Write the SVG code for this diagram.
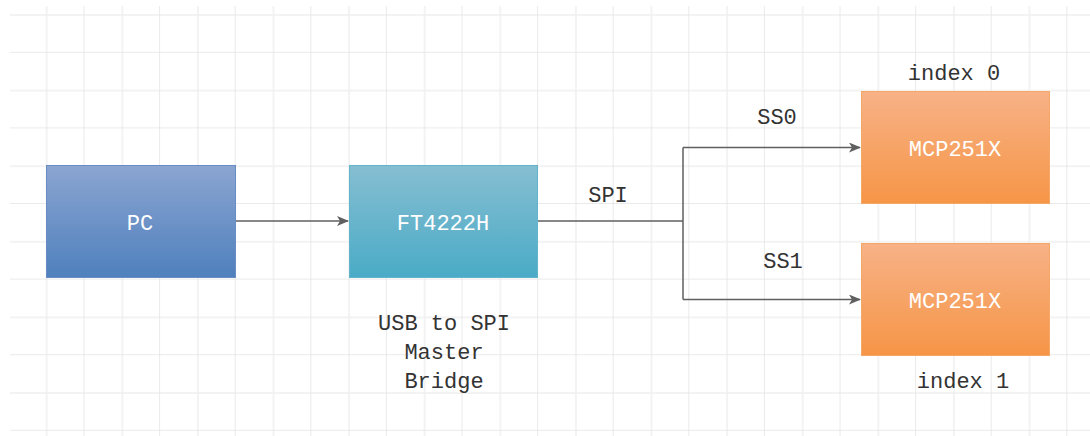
<svg xmlns="http://www.w3.org/2000/svg" width="1090" height="436" viewBox="0 0 1090 436">
<defs>
<linearGradient id="gBlue" x1="0" y1="0" x2="0" y2="1"><stop offset="0" stop-color="#8ba5d1"/><stop offset="1" stop-color="#4f80bd"/></linearGradient>
<linearGradient id="gTeal" x1="0" y1="0" x2="0" y2="1"><stop offset="0" stop-color="#86bed2"/><stop offset="1" stop-color="#4aabc6"/></linearGradient>
<linearGradient id="gOrange" x1="0" y1="0" x2="0" y2="1"><stop offset="0" stop-color="#f7b287"/><stop offset="1" stop-color="#f69546"/></linearGradient>
<marker id="arr" markerWidth="12" markerHeight="10" refX="11" refY="5" orient="auto" markerUnits="userSpaceOnUse"><path d="M0,0 L12,5 L0,10 L3,5 Z" fill="#5f5f5f"/></marker>
<pattern id="grid" x="8.9" y="-22.8" width="75.6" height="75.6" patternUnits="userSpaceOnUse">
<path d="M37.8,0 V75.6 M0,37.8 H75.6" stroke="#f0f0f0" stroke-width="1.5" fill="none"/>
<path d="M75.6,0 V75.6 M0,75.6 H75.6" stroke="#e3e3e3" stroke-width="1.5" fill="none"/>
</pattern>
</defs>
<style>
.lbl{font-family:"Liberation Mono","DejaVu Sans Mono",monospace;font-size:22px;fill:#333;text-anchor:middle}
.nt{font-family:"Liberation Mono","DejaVu Sans Mono",monospace;font-size:22px;fill:#fff;text-anchor:middle}
.cn{stroke:#5f5f5f;stroke-width:1.5;fill:none}
</style>
<rect width="1090" height="436" fill="#fff"/>
<rect x="10" y="6" width="1080" height="430" fill="url(#grid)"/>
<g id="connectors">
<path class="cn" d="M236,221 H348" marker-end="url(#arr)"/>
<path class="cn" d="M538,221 H683"/>
<path class="cn" d="M683,147.5 V299.5"/>
<path class="cn" d="M683,147.5 H860" marker-end="url(#arr)"/>
<path class="cn" d="M683,299.5 H860" marker-end="url(#arr)"/>
<text class="lbl" x="608" y="202">SPI</text>
<text class="lbl" x="777" y="124">SS0</text>
<text class="lbl" x="783" y="268">SS1</text>
</g>
<g id="pc">
<rect x="46.5" y="165.5" width="189" height="112" fill="url(#gBlue)" stroke="#6a8cc4" stroke-width="1"/>
<text class="nt" x="140" y="230">PC</text>
</g>
<g id="ft4222h">
<rect x="349.5" y="165.5" width="188" height="112" fill="url(#gTeal)" stroke="#62b4cb" stroke-width="1"/>
<text class="nt" x="443" y="230">FT4222H</text>
<text class="lbl" x="444" y="330">USB to SPI</text>
<text class="lbl" x="444" y="359">Master</text>
<text class="lbl" x="444" y="388">Bridge</text>
</g>
<g id="mcp0">
<rect x="861.5" y="91.5" width="188" height="112" fill="url(#gOrange)" stroke="#f5a767" stroke-width="1"/>
<text class="nt" x="955" y="156">MCP251X</text>
<text class="lbl" x="954" y="80">index 0</text>
</g>
<g id="mcp1">
<rect x="861.5" y="243.5" width="188" height="112" fill="url(#gOrange)" stroke="#f5a767" stroke-width="1"/>
<text class="nt" x="955" y="308">MCP251X</text>
<text class="lbl" x="963" y="388">index 1</text>
</g>
</svg>
